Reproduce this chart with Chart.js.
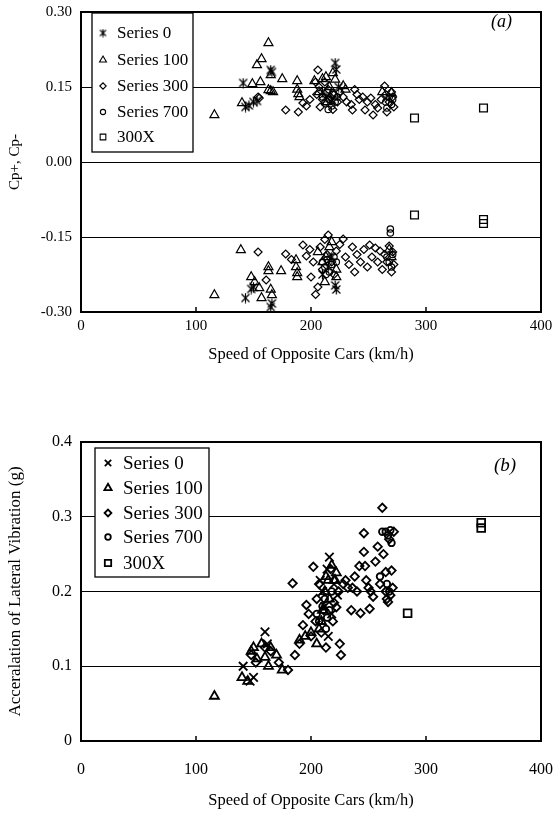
<!DOCTYPE html>
<html>
<head>
<meta charset="utf-8">
<script src="https://cdn.jsdelivr.net/npm/chart.js"></script>
<style>
  html, body { margin: 0; padding: 0; background: #fff; }
  #wrap { position: relative; width: 555px; height: 816px; }
  #wrap canvas { position: absolute; left: 0; }
  #cTop { top: 0; }
  #cBot { top: 430px; }
</style>
</head>
<body>
<div id="wrap">
  <canvas id="cTop" width="555" height="375"></canvas>
  <canvas id="cBot" width="555" height="386"></canvas>
</div>
<script>
// ---------- labels ----------
const seriesNames = ['Series 0', 'Series 100', 'Series 300', 'Series 700', '300X'];
const speedTicks = [0, 100, 200, 300, 400];
const cpTicks = [-0.30, -0.15, 0.00, 0.15, 0.30];
const accTicks = [0, 0.1, 0.2, 0.3, 0.4];

// ---------- (a) pressure coefficients Cp+ / Cp- ----------
const aS0Speed = [141, 143, 146, 150, 153, 165, 166, 221, 222, 213, 218, 210, 224,
                  143, 148, 150, 165, 166, 221, 222, 215, 210, 218];
const aS0Cp    = [0.158, 0.110, 0.113, 0.120, 0.122, 0.184, 0.180, 0.198, 0.185, 0.130, 0.125, 0.140, 0.150,
                  -0.272, -0.254, -0.250, -0.290, -0.283, -0.247, -0.255, -0.210, -0.225, -0.190];

const aS100Speed = [116, 140, 149, 153, 157, 163, 156, 163, 165, 165, 167, 175, 188, 188, 189, 190, 203, 210, 213, 216, 219, 221, 228, 207, 214, 220, 230, 262, 270,
                    139, 116, 148, 151, 155, 157, 163, 163, 165, 166, 174, 187, 187, 188, 188, 206, 210, 213, 216, 218, 222, 222, 212, 270, 268];
const aS100Cp    = [0.094, 0.118, 0.156, 0.194, 0.206, 0.238, 0.160, 0.144, 0.142, 0.174, 0.140, 0.166, 0.162, 0.145, 0.136, 0.130, 0.162, 0.166, 0.170, 0.150, 0.178, 0.165, 0.152, 0.140, 0.120, 0.135, 0.145, 0.140, 0.138,
                    -0.176, -0.266, -0.230, -0.240, -0.252, -0.272, -0.210, -0.218, -0.255, -0.266, -0.218, -0.196, -0.210, -0.222, -0.230, -0.180, -0.200, -0.190, -0.170, -0.160, -0.215, -0.230, -0.240, -0.190, -0.175];

const aS300Speed = [154, 155, 178, 189, 193, 196, 199, 206, 204, 205, 207, 208, 210, 212, 215, 217, 219, 223, 225, 228, 231, 235, 236, 238, 240, 242, 245, 247, 249, 252, 254, 256, 258, 261, 264, 265, 266, 268, 270, 272, 271,
                    154, 161, 178, 193, 196, 199, 202, 204, 206, 208, 210, 212, 214, 215, 218, 220, 222, 225, 228, 230, 233, 236, 238, 240, 243, 246, 249, 251, 253, 256, 258, 260, 262, 264, 266, 268, 270, 271, 272, 200, 183];
const aS300Cp    = [0.130, 0.128, 0.104, 0.100, 0.118, 0.112, 0.125, 0.184, 0.160, 0.135, 0.150, 0.110, 0.125, 0.160, 0.145, 0.130, 0.105, 0.120, 0.140, 0.130, 0.120, 0.115, 0.104, 0.145, 0.135, 0.125, 0.130, 0.104, 0.120, 0.128, 0.094, 0.115, 0.108, 0.125, 0.152, 0.135, 0.100, 0.120, 0.140, 0.110, 0.130,
                    -0.180, -0.236, -0.184, -0.166, -0.188, -0.175, -0.200, -0.265, -0.250, -0.170, -0.215, -0.155, -0.185, -0.146, -0.200, -0.225, -0.178, -0.165, -0.154, -0.190, -0.205, -0.170, -0.220, -0.185, -0.200, -0.175, -0.210, -0.166, -0.190, -0.172, -0.200, -0.178, -0.215, -0.185, -0.200, -0.168, -0.220, -0.180, -0.205, -0.230, -0.195];

const aS700Speed = [210, 212, 214, 216, 218, 219, 221, 223, 215, 265, 268, 270, 271, 266,
                    210, 212, 214, 216, 218, 220, 222, 213, 269, 269, 266, 268, 270, 271];
const aS700Cp    = [0.130, 0.118, 0.140, 0.125, 0.112, 0.135, 0.120, 0.130, 0.105, 0.120, 0.130, 0.115, 0.125, 0.108,
                    -0.200, -0.210, -0.195, -0.220, -0.205, -0.190, -0.200, -0.225, -0.134, -0.142, -0.190, -0.200, -0.210, -0.185];

const aS300XSpeed = [290, 350, 290, 350, 350];
const aS300XCp    = [0.088, 0.108, -0.106, -0.115, -0.123];

// ---------- (b) lateral vibration acceleration ----------
const bS0Speed = [141, 147, 150, 160, 162, 216, 214, 210, 212, 218, 220, 223, 208, 215];
const bS0Acc   = [0.100, 0.080, 0.085, 0.146, 0.130, 0.246, 0.230, 0.200, 0.180, 0.170, 0.210, 0.195, 0.215, 0.140];

const bS100Speed = [116, 140, 145, 148, 150, 153, 157, 160, 163, 165, 170, 175, 190, 195, 200, 205, 207, 210, 212, 215, 218, 220, 221, 222, 216, 209, 213];
const bS100Acc   = [0.060, 0.085, 0.080, 0.120, 0.125, 0.110, 0.130, 0.112, 0.100, 0.125, 0.115, 0.095, 0.135, 0.140, 0.145, 0.130, 0.150, 0.175, 0.200, 0.215, 0.235, 0.215, 0.215, 0.225, 0.190, 0.160, 0.220];

const bS300Speed = [148, 152, 160, 165, 172, 186, 184, 180, 190, 193, 196, 198, 200, 202, 204, 205, 207, 209, 211, 213, 217, 219, 220, 222, 224, 225, 226, 228, 232, 236, 238, 240, 242, 243, 246, 246, 247, 248, 250, 251, 252, 254, 256, 258, 260, 262, 263, 265, 265, 266, 267, 268, 270, 271, 272, 269, 235, 230];
const bS300Acc   = [0.115, 0.105, 0.125, 0.120, 0.105, 0.115, 0.211, 0.095, 0.130, 0.155, 0.182, 0.170, 0.140, 0.233, 0.160, 0.190, 0.210, 0.145, 0.175, 0.125, 0.230, 0.160, 0.185, 0.179, 0.200, 0.130, 0.115, 0.210, 0.205, 0.205, 0.220, 0.200, 0.234, 0.171, 0.278, 0.253, 0.234, 0.215, 0.205, 0.177, 0.200, 0.193, 0.240, 0.260, 0.210, 0.312, 0.250, 0.226, 0.200, 0.190, 0.186, 0.270, 0.228, 0.205, 0.280, 0.195, 0.175, 0.215];

const bS700Speed = [205, 207, 210, 212, 214, 216, 218, 213, 260, 262, 265, 267, 269, 270, 266, 268];
const bS700Acc   = [0.170, 0.160, 0.180, 0.190, 0.165, 0.175, 0.200, 0.150, 0.220, 0.280, 0.280, 0.275, 0.282, 0.265, 0.210, 0.200];

const bS300XSpeed = [284, 348, 348];
const bS300XAcc   = [0.171, 0.285, 0.292];

// ---------- marker helpers ----------
function asteriskMark(size, lw) {
  const c = document.createElement('canvas');
  c.width = c.height = size;
  const g = c.getContext('2d');
  g.strokeStyle = '#000';
  g.lineWidth = lw;
  const m = size / 2, d = size / 2 - 1.5;
  g.beginPath();
  g.moveTo(m - d, m - d); g.lineTo(m + d, m + d);
  g.moveTo(m + d, m - d); g.lineTo(m - d, m + d);
  g.moveTo(m, 0.5); g.lineTo(m, size - 0.5);
  g.stroke();
  return c;
}

function pairs(xs, ys) {
  return xs.map((x, i) => ({ x: x, y: ys[i] }));
}

function series(label, xs, ys, style, radius, lw) {
  return {
    label: label,
    data: pairs(xs, ys),
    pointStyle: style,
    pointRadius: radius,
    pointHoverRadius: radius,
    pointBorderWidth: lw,
    borderColor: '#000',
    backgroundColor: 'rgba(0,0,0,0)',
    showLine: false
  };
}

// frame, inward ticks, boxed legend and panel tag
const panelDecor = {
  id: 'panelDecor',
  afterDraw(chart, args, o) {
    const ctx = chart.ctx, a = chart.chartArea, xs = chart.scales.x;
    ctx.save();
    ctx.strokeStyle = '#000';
    ctx.lineWidth = o.frameWidth;
    ctx.strokeRect(a.left, a.top, a.right - a.left, a.bottom - a.top);
    ctx.lineWidth = 1.5;
    xs.ticks.forEach(t => {
      const px = xs.getPixelForValue(t.value);
      ctx.beginPath();
      ctx.moveTo(px, a.bottom);
      ctx.lineTo(px, a.bottom - o.tickLen);
      ctx.stroke();
    });
    // legend
    const b = o.legend;
    ctx.fillStyle = '#fff';
    ctx.fillRect(b.x, b.y, b.w, b.h);
    ctx.lineWidth = 1.3;
    ctx.strokeRect(b.x, b.y, b.w, b.h);
    ctx.font = o.legendFont;
    ctx.textBaseline = 'middle';
    ctx.textAlign = 'left';
    chart.data.datasets.forEach((ds, i) => {
      const yy = b.rowY[i];
      ctx.strokeStyle = '#000';
      ctx.fillStyle = 'rgba(0,0,0,0)';
      ctx.lineWidth = o.legendMarkLw;
      if (Chart.helpers && Chart.helpers.drawPoint) {
        Chart.helpers.drawPoint(ctx, {
          pointStyle: o.legendStyles[i],
          radius: o.legendRadius[i],
          rotation: 0,
          borderWidth: o.legendMarkLw
        }, b.markX, yy);
      }
      ctx.fillStyle = '#000';
      ctx.fillText(ds.label, b.textX, yy + 1);
    });
    // panel tag
    ctx.font = o.tagFont;
    ctx.fillStyle = '#000';
    ctx.textAlign = 'left';
    ctx.fillText(o.tag, o.tagX, o.tagY);
    ctx.restore();
  }
};

const serif = "'Liberation Serif', 'Times New Roman', serif";

function gridColor(c) {
  const s = c.scale;
  if (Math.abs(c.tick.value - s.min) < 1e-9 || Math.abs(c.tick.value - s.max) < 1e-9) return 'rgba(0,0,0,0)';
  return '#000';
}

function buildOptions(p) {
  return {
    responsive: false,
    animation: false,
    events: [],
    layout: { padding: { left: 0, right: 14, top: p.padTop, bottom: 0 } },
    scales: {
      x: {
        type: 'linear',
        min: speedTicks[0],
        max: speedTicks[speedTicks.length - 1],
        afterBuildTicks: s => { s.ticks = speedTicks.map(v => ({ value: v })); },
        ticks: { color: '#000', font: { family: serif, size: p.tickSize }, padding: p.xTickPad, maxRotation: 0 },
        grid: { display: false, drawTicks: false },
        border: { display: false },
        title: {
          display: true, text: 'Speed of Opposite Cars (km/h)', color: '#000',
          font: { family: serif, size: p.xTitleSize }, padding: { top: 0, bottom: p.xTitlePad }
        },
        afterFit: s => { s.height = p.xHeight; s.paddingLeft = 0; s.paddingRight = 0; }
      },
      y: {
        type: 'linear',
        min: p.yTicks[0],
        max: p.yTicks[p.yTicks.length - 1],
        afterBuildTicks: s => { s.ticks = p.yTicks.map(v => ({ value: v })); },
        ticks: { color: '#000', font: { family: serif, size: p.tickSize }, padding: 9, callback: p.yFmt },
        grid: { color: gridColor, lineWidth: 1, drawTicks: false },
        border: { display: false },
        title: {
          display: true, text: p.yTitle, color: '#000',
          font: { family: serif, size: p.yTitleSize }, padding: { top: p.yTitlePad, bottom: 0 }
        },
        afterFit: s => { s.width = 81; s.paddingTop = 0; s.paddingBottom = 0; }
      }
    },
    plugins: {
      legend: { display: false },
      tooltip: { enabled: false },
      panelDecor: p.decor
    }
  };
}

// ---------- chart (a) ----------
const starTop = asteriskMark(11, 1.2);
const starLegTop = asteriskMark(9, 1.1);
new Chart(document.getElementById('cTop'), {
  type: 'scatter',
  data: {
    datasets: [
      series(seriesNames[0], aS0Speed, aS0Cp, starTop, 5, 1.2),
      series(seriesNames[1], aS100Speed, aS100Cp, 'triangle', 5.2, 1.2),
      series(seriesNames[2], aS300Speed, aS300Cp, 'rectRot', 4, 1.2),
      series(seriesNames[3], aS700Speed, aS700Cp, 'circle', 3.2, 1.2),
      series(seriesNames[4], aS300XSpeed, aS300XCp, 'rect', 5.5, 1.3)
    ]
  },
  options: buildOptions({
    padTop: 12,
    tickSize: 15,
    xTickPad: 5,
    xTitleSize: 16.5,
    xTitlePad: 10,
    xHeight: 63,
    yTicks: cpTicks,
    yFmt: v => v.toFixed(2),
    yTitle: 'Cp+, Cp-',
    yTitleSize: 15,
    yTitlePad: 6,
    decor: {
      frameWidth: 2, tickLen: 5,
      legend: { x: 92, y: 13, w: 101, h: 139, rowY: [33, 60, 86, 112, 137], markX: 103, textX: 117 },
      legendFont: '17px ' + serif,
      legendStyles: [starLegTop, 'triangle', 'rectRot', 'circle', 'rect'],
      legendRadius: [4, 4, 3.2, 2.6, 4],
      legendMarkLw: 1.1,
      tag: '(a)', tagFont: 'italic 18px ' + serif, tagX: 491, tagY: 22
    }
  }),
  plugins: [panelDecor]
});

// ---------- chart (b) ----------
new Chart(document.getElementById('cBot'), {
  type: 'scatter',
  data: {
    datasets: [
      series(seriesNames[0], bS0Speed, bS0Acc, 'crossRot', 6, 1.8),
      series(seriesNames[1], bS100Speed, bS100Acc, 'triangle', 5.2, 1.8),
      series(seriesNames[2], bS300Speed, bS300Acc, 'rectRot', 4.2, 1.8),
      series(seriesNames[3], bS700Speed, bS700Acc, 'circle', 3.3, 1.8),
      series(seriesNames[4], bS300XSpeed, bS300XAcc, 'rect', 5.5, 1.8)
    ]
  },
  options: buildOptions({
    padTop: 12,
    tickSize: 16,
    xTickPad: 19,
    xTitleSize: 16.5,
    xTitlePad: 5,
    xHeight: 75,
    yTicks: accTicks,
    yFmt: v => (v === 0 ? '0' : v.toFixed(1)),
    yTitle: 'Acceralation of Lateral Vibration (g)',
    yTitleSize: 17,
    yTitlePad: 5,
    decor: {
      frameWidth: 2, tickLen: 5,
      legend: { x: 95, y: 18, w: 114, h: 129, rowY: [33, 58, 83, 107, 133], markX: 108, textX: 123 },
      legendFont: '19px ' + serif,
      legendStyles: ['crossRot', 'triangle', 'rectRot', 'circle', 'rect'],
      legendRadius: [4.5, 4.2, 3.4, 2.8, 4.5],
      legendMarkLw: 1.8,
      tag: '(b)', tagFont: 'italic 19px ' + serif, tagX: 494, tagY: 36
    }
  }),
  plugins: [panelDecor]
});
</script>
</body>
</html>
